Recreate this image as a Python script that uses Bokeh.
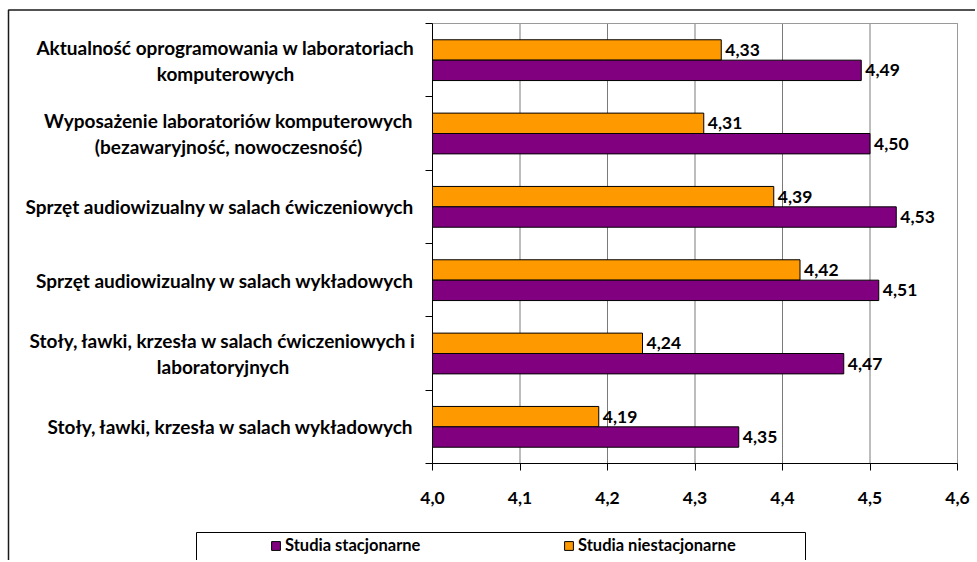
from bokeh.plotting import figure
from bokeh.models import (ColumnDataSource, FixedTicker, Legend, LegendItem,
                          BoxAnnotation, Range1d)
from bokeh.transform import dodge
from bokeh.core.properties import value
from bokeh.embed import file_html
from bokeh.resources import INLINE

# ---------------- data ----------------
categories = [
    "Aktualność oprogramowania w laboratoriach\nkomputerowych",
    "Wyposażenie laboratoriów komputerowych\n(bezawaryjność, nowoczesność)",
    "Sprzęt audiowizualny w salach ćwiczeniowych",
    "Sprzęt audiowizualny w salach wykładowych",
    "Stoły, ławki, krzesła w salach ćwiczeniowych i\nlaboratoryjnych",
    "Stoły, ławki, krzesła w salach wykładowych",
]
stacjonarne = [4.49, 4.50, 4.53, 4.51, 4.47, 4.35]
niestacjonarne = [4.33, 4.31, 4.39, 4.42, 4.24, 4.19]
series_names = ["Studia stacjonarne", "Studia niestacjonarne"]
x_ticks = [4.0, 4.1, 4.2, 4.3, 4.4, 4.5, 4.6]
x_tick_labels = ["4,0", "4,1", "4,2", "4,3", "4,4", "4,5", "4,6"]

# ---------------- layout / styles ----------------
FONT = "Lato"
PURPLE = "#800080"
ORANGE = "#FF9900"
BAR_H = 0.278
OFF = 0.139
W, H = 975, 560
ORIGIN = 1                      # picture px of canvas px 0
PX_X0, PX_X1 = 433, 958         # picture px of the value axis ends
PX_Y0, PX_Y1 = 464, 24          # picture px of the category axis ends
LABEL_RIGHT_PX = 415
ML_CENTER_PX = {0: 226, 1: 229, 4: 223.5}

n = len(categories)
xmin, xmax = x_ticks[0], x_ticks[-1]
kx = (xmax - xmin) / (PX_X1 - PX_X0)
ky = n / (PX_Y0 - PX_Y1)

def dx(px):
    return xmin + (px - PX_X0) * kx

def dy(py):
    return (PX_Y0 - py) * ky

ypos = [n - 0.5 - i for i in range(n)]

def fmt(v):
    return f"{v:.2f}".replace(".", ",")

src = ColumnDataSource(dict(
    y=ypos,
    st=stacjonarne,
    ns=niestacjonarne,
    st_lbl=[fmt(v) for v in stacjonarne],
    ns_lbl=[fmt(v) for v in niestacjonarne],
))

p = figure(width=W, height=H, output_backend="svg", toolbar_location=None,
           x_range=Range1d(dx(ORIGIN), dx(W + ORIGIN)),
           y_range=Range1d(dy(H + ORIGIN), dy(ORIGIN)),
           min_border=0)
p.background_fill_color = "white"
p.border_fill_color = "white"
p.outline_line_color = None
p.xgrid.visible = False
p.ygrid.visible = False

# plot area frame + vertical gridlines
p.add_layout(BoxAnnotation(left=xmin, right=xmax, bottom=0, top=n,
                           fill_alpha=0, line_color="#9a9a9a", line_alpha=1,
                           line_width=1, level="underlay"))
p.segment(x0=x_ticks[1:], y0=[0] * (len(x_ticks) - 1), x1=x_ticks[1:],
          y1=[n] * (len(x_ticks) - 1), line_color="#7a7a7a", line_width=1,
          level="underlay")

r_ns = p.hbar(y=dodge("y", OFF), left=xmin, right="ns", height=BAR_H,
              source=src, fill_color=ORANGE, line_color="black", line_width=1)
r_st = p.hbar(y=dodge("y", -OFF), left=xmin, right="st", height=BAR_H,
              source=src, fill_color=PURPLE, line_color="black", line_width=1)

for fld, lbl, off in [("ns", "ns_lbl", OFF), ("st", "st_lbl", -OFF)]:
    p.text(x=fld, y=dodge("y", off), text=lbl, source=src, x_offset=4,
           text_baseline="middle", text_align="left", text_font=value(FONT),
           text_font_style="bold", text_font_size="17.5px", text_color="black")

# axes drawn at the data origin
xa = p.xaxis[0]
xa.fixed_location = 0
xa.bounds = (xmin, xmax)
xa.ticker = FixedTicker(ticks=x_ticks)
xa.major_label_overrides = {t: l for t, l in zip(x_ticks, x_tick_labels)}
xa.major_tick_out = 7
xa.major_tick_in = 0
xa.minor_tick_line_color = None
xa.axis_line_color = "black"
xa.major_tick_line_color = "black"
xa.major_label_standoff = 21
xa.major_label_text_font = FONT
xa.major_label_text_font_style = "bold"
xa.major_label_text_font_size = "17.5px"
xa.major_label_text_color = "black"

ya = p.yaxis[0]
ya.fixed_location = xmin
ya.bounds = (0, n)
ya.ticker = FixedTicker(ticks=list(range(n + 1)))
ya.major_label_overrides = {i: "" for i in range(n + 1)}
ya.major_tick_out = 7
ya.major_tick_in = 0
ya.minor_tick_line_color = None
ya.axis_line_color = "black"
ya.major_tick_line_color = "black"

# category labels (right-aligned block, centred lines)
lab_x, lab_align = [], []
for i in range(n):
    if i in ML_CENTER_PX:
        lab_x.append(dx(ML_CENTER_PX[i]))
        lab_align.append("center")
    else:
        lab_x.append(dx(LABEL_RIGHT_PX))
        lab_align.append("right")
lab_src = ColumnDataSource(dict(x=lab_x, y=ypos, text=categories, align=lab_align))
p.text(x="x", y="y", text="text", text_align="align", source=lab_src,
       text_baseline="middle", text_font=value(FONT), text_font_style="bold",
       text_font_size="19px", text_color="black", text_line_height=1.14)

# outer chart border (cut off on the right/bottom like the reference)
p.add_layout(BoxAnnotation(left=dx(9), right=dx(1200), top=dy(10.5), bottom=dy(900),
                           fill_alpha=0, line_color="#1a1a1a", line_alpha=1,
                           line_width=1.5))
# legend box
p.add_layout(BoxAnnotation(left=dx(197), right=dx(806), top=dy(533), bottom=dy(900),
                           fill_alpha=0, line_color="black", line_alpha=1,
                           line_width=1))

for rend, name, gx in [(r_st, series_names[0], 271), (r_ns, series_names[1], 564)]:
    leg = Legend(items=[LegendItem(label=name, renderers=[rend])],
                 location=(gx - ORIGIN, H + ORIGIN - 556), orientation="horizontal",
                 padding=0, margin=0, glyph_width=11, glyph_height=11,
                 label_standoff=4, label_height=11,
                 border_line_alpha=0, background_fill_alpha=0,
                 label_text_font=FONT, label_text_font_style="bold",
                 label_text_font_size="16.5px", label_text_color="black")
    p.add_layout(leg)

open("out.html", "w").write(file_html(p, INLINE))
